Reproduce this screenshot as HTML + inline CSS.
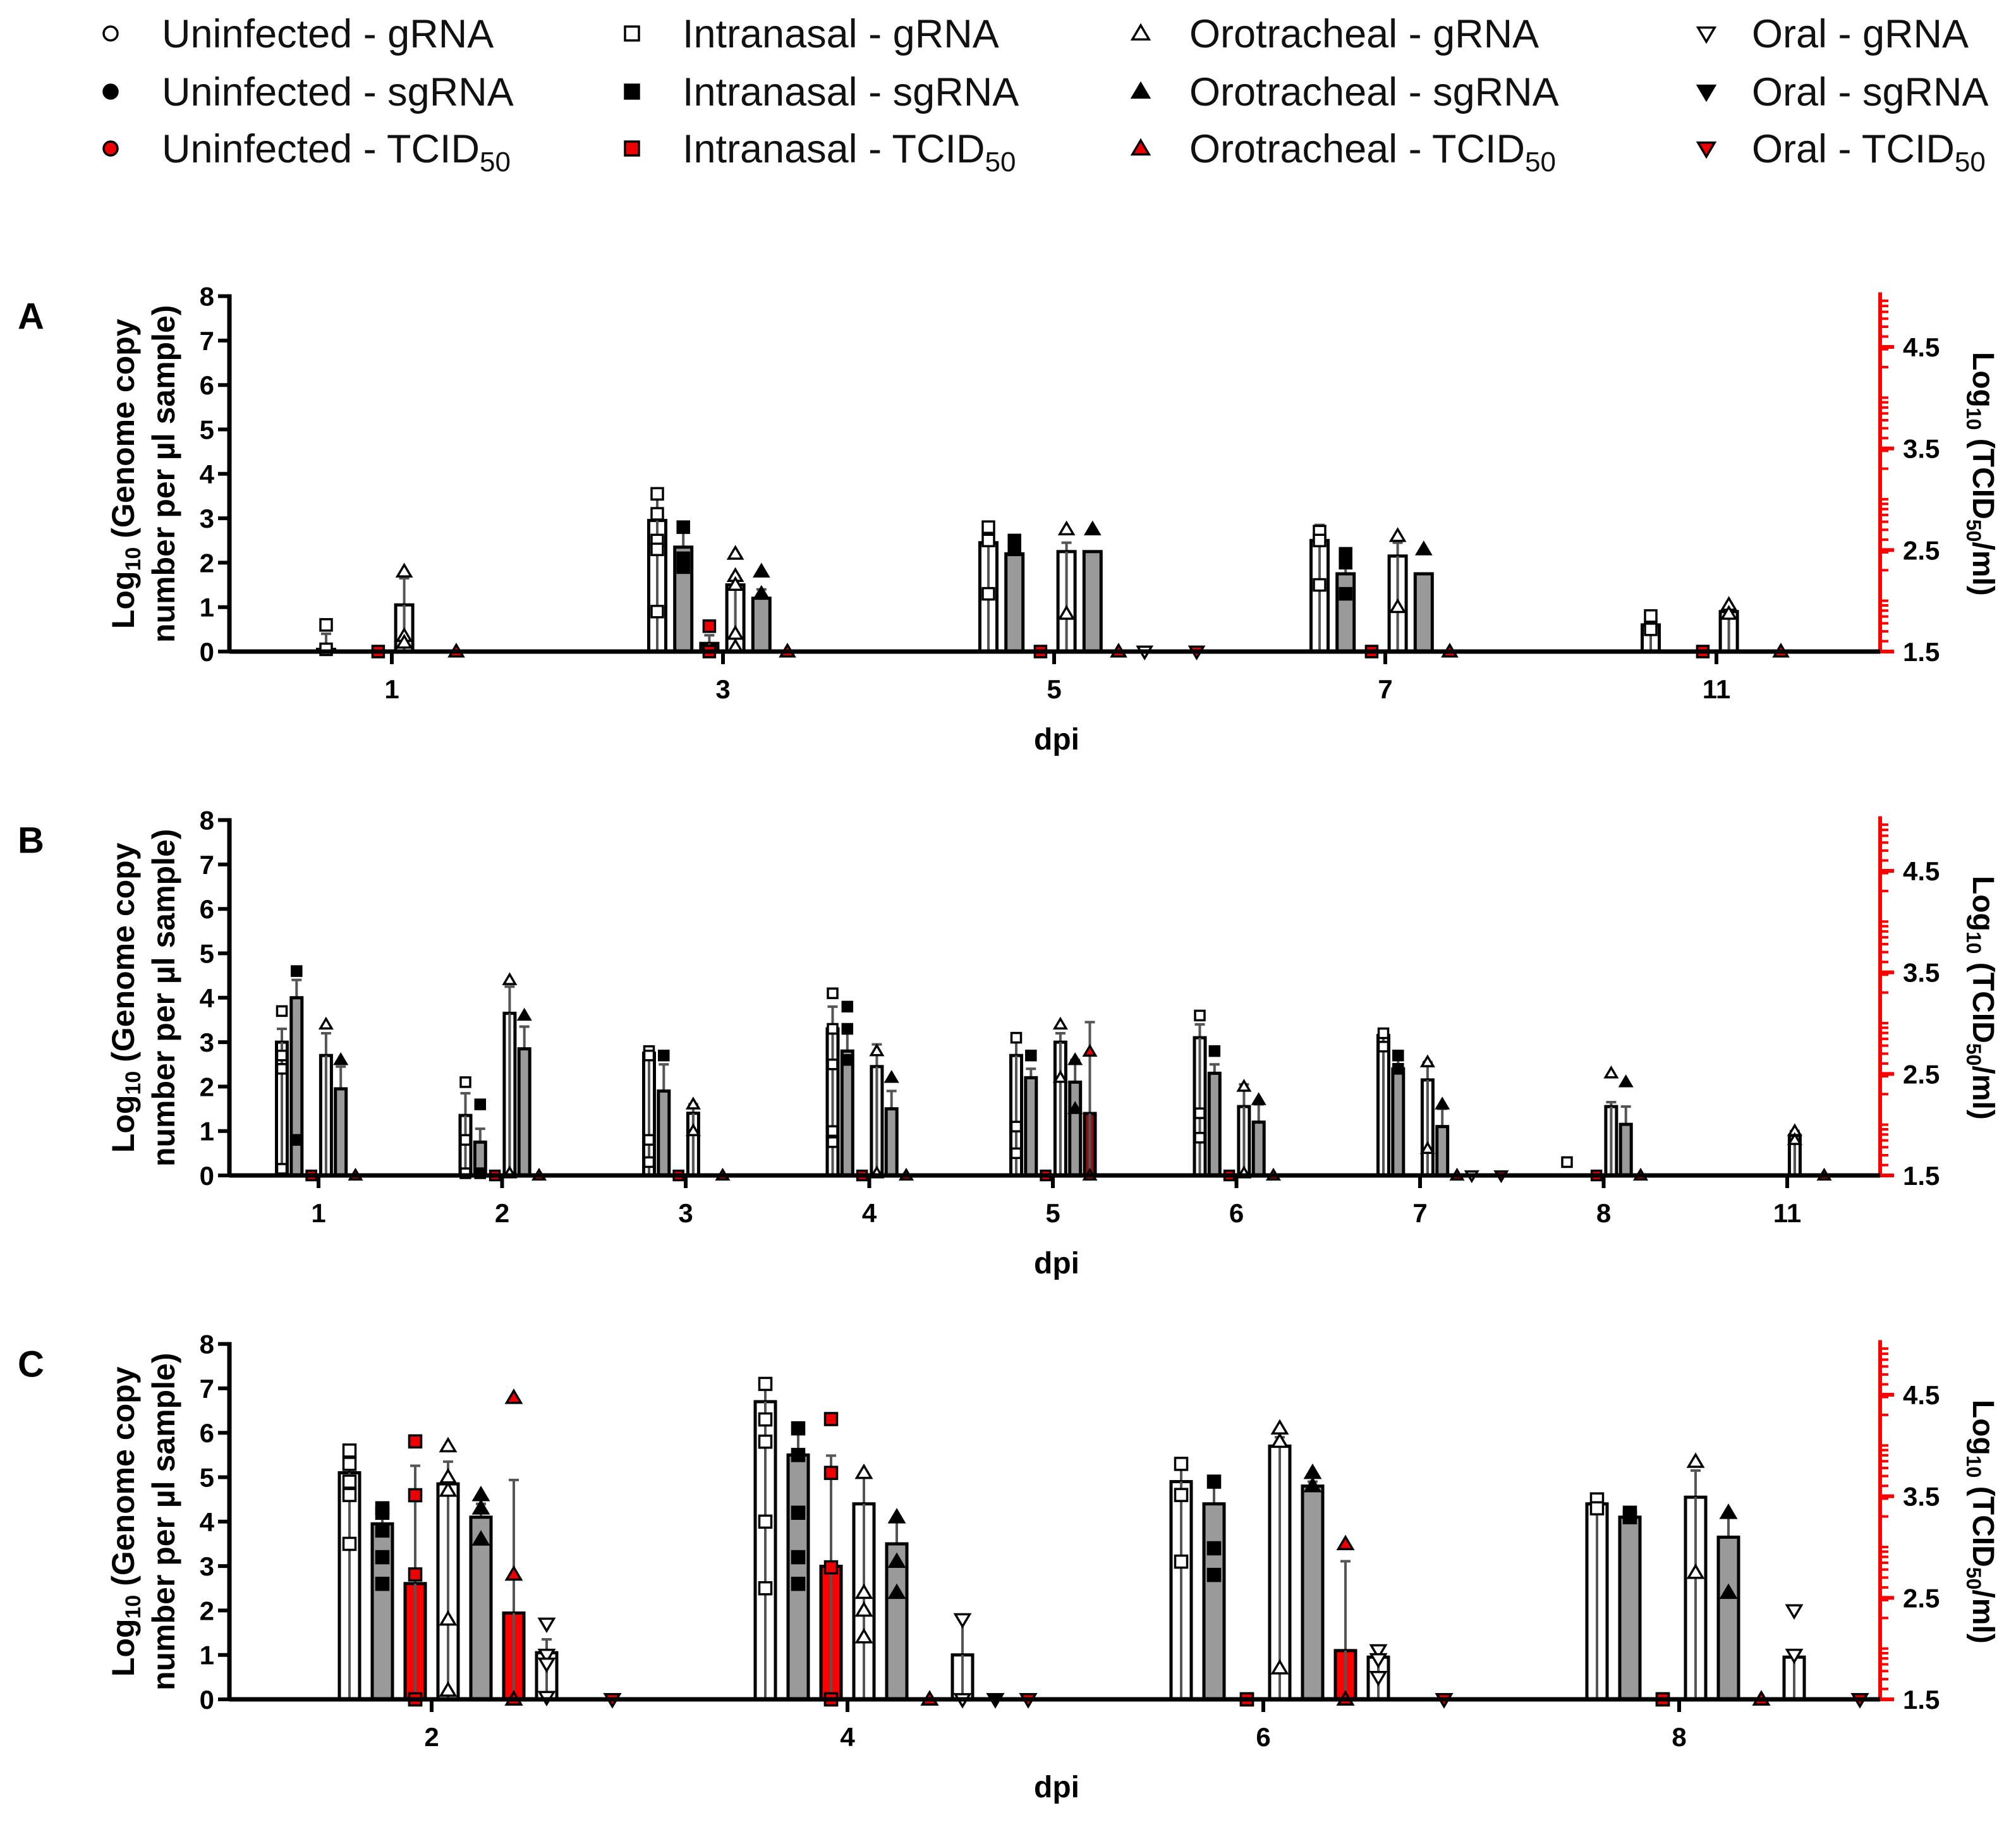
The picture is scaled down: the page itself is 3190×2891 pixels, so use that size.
<!DOCTYPE html>
<html><head><meta charset="utf-8">
<style>
html,body{margin:0;padding:0;background:#fff;}
svg{display:block;font-family:"Liberation Sans",sans-serif;}
</style></head>
<body>
<svg id="chart" width="3190" height="2891" viewBox="0 0 3190 2891" xmlns="http://www.w3.org/2000/svg">
<g id="legend"></g>
<g id="plots"></g>
</svg>
<script>
// ---------- Panel A data ----------
const A_days = ['1','3','5','7','11'];
const A_IN_g = [0.05, 2.95, 2.45, 2.5, 0.6];
const A_IN_g_pts = [[0.6,0.05],[3.55,3.1,2.5,2.3,0.9],[2.8,2.5,1.3],[2.7,2.5,1.5],[0.8,0.5]];
const A_IN_g_e = [0.35, 0.5, 0.3, 0.35, 0.15];
const A_IN_s = [null, 2.35, 2.2, 1.75, null];
const A_IN_s_pts = [[],[2.8,2.1,1.9],[2.5,2.3],[2.2,2.0,1.3],[]];
const A_IN_s_e = [null, 0.4, 0.2, 0.5, null];
const A_IN_t = [1.5, 1.58, 1.5, 1.5, 1.5];
const A_IN_t_pts = [[1.5],[1.75,1.5],[1.5],[1.5],[1.5]];
const A_IN_t_e = [null, 0.08, null, null, null];
const A_OT_g = [1.05, 1.5, 2.25, 2.15, 0.9];
const A_OT_g_pts = [[1.8,0.35,0.2],[2.2,1.7,1.5,0.4,0.1],[2.75,0.85],[2.6,1.0],[1.05,0.85]];
const A_OT_g_e = [0.6, 0.2, 0.2, 0.3, 0.1];
const A_OT_s = [null, 1.2, 2.25, 1.75, null];
const A_OT_s_pts = [[],[1.8,1.3],[2.75],[2.3],[]];
const A_OT_s_e = [null, 0.2, null, null, null];
const A_OT_t = [1.5, 1.5, 1.5, 1.5, 1.5];
const A_OT_t_pts = [[1.5],[1.5],[1.5],[1.5],[1.5]];
const A_OT_t_e = [null, null, null, null, null];
const A_OR_g = [null, null, 0, null, null];
const A_OR_g_pts = [[],[],[0],[],[]];
const A_OR_g_e = [null, null, null, null, null];
const A_OR_s = [null, null, null, null, null];
const A_OR_s_pts = [[],[],[],[],[]];
const A_OR_s_e = [null, null, null, null, null];
const A_OR_t = [null, null, 1.5, null, null];
const A_OR_t_pts = [[],[],[1.5],[],[]];
const A_OR_t_e = [null, null, null, null, null];

// ---------- Panel B data ----------
const B_days = ['1','2','3','4','5','6','7','8','11'];
const B_IN_g = [3.0, 1.35, 2.75, 3.3, 2.7, 3.1, 3.15, null, null];
const B_IN_g_pts = [[3.7,2.7,2.4,0.15],[2.1,0.8,0.05],[2.8,2.7,0.8,0.3],[4.1,3.3,2.5,1.0,0.75],[3.1,1.1,0.5],[3.6,1.4,0.85],[3.2,2.9],[0.3],[]];
const B_IN_g_e = [0.3, 0.5, 0.1, 0.5, 0.3, 0.3, 0.1, null, null];
const B_IN_s = [4.0, 0.75, 1.9, 2.8, 2.2, 2.3, 2.4, null, null];
const B_IN_s_pts = [[4.6,0.8],[1.6,0.05],[2.7],[3.8,3.3,2.6],[2.7],[2.8],[2.7,2.4],[],[]];
const B_IN_s_e = [0.4, 0.3, 0.6, 0.5, 0.2, 0.2, 0.2, null, null];
const B_IN_t = [1.5, 1.5, 1.5, 1.5, 1.5, 1.5, null, 1.5, null];
const B_IN_t_pts = [[1.5],[1.5],[1.5],[1.5],[1.5],[1.5],[],[1.5],[]];
const B_IN_t_e = [null, null, null, null, null, null, null, null, null];
const B_OT_g = [2.7, 3.65, 1.4, 2.45, 3.0, 1.55, 2.15, 1.55, 0.9];
const B_OT_g_pts = [[3.4],[4.4,0.05],[1.6,1.0],[2.8,0.05],[3.4,2.2],[2.0,0.05],[2.55,0.6],[2.3],[1.0,0.8]];
const B_OT_g_e = [0.5, 0.6, 0.2, 0.5, 0.2, 0.5, 0.4, 0.1, 0.1];
const B_OT_s = [1.95, 2.85, null, 1.5, 2.1, 1.2, 1.1, 1.15, null];
const B_OT_s_pts = [[2.6],[3.6],[],[2.2],[2.6,1.5],[1.7],[1.6],[2.1],[]];
const B_OT_s_e = [0.5, 0.5, null, 0.4, 0.5, 0.4, 0.4, 0.4, null];
const B_OT_t = [1.5, 1.5, 1.5, 1.5, 2.11, 1.5, 1.5, 1.5, 1.5];
const B_OT_t_pts = [[1.5],[1.5],[1.5],[1.5],[2.72,1.5],[1.5],[1.5],[1.5],[1.5]];
const B_OT_t_e = [null, null, null, null, 0.9, null, null, null, null];
const B_OR_g = [null, null, null, null, null, null, 0, null, null];
const B_OR_g_pts = [[],[],[],[],[],[],[0],[],[]];
const B_OR_g_e = [null, null, null, null, null, null, null, null, null];
const B_OR_s = [null, null, null, null, null, null, null, null, null];
const B_OR_s_pts = [[],[],[],[],[],[],[],[],[]];
const B_OR_s_e = [null, null, null, null, null, null, null, null, null];
const B_OR_t = [null, null, null, null, null, null, 1.5, null, null];
const B_OR_t_pts = [[],[],[],[],[],[],[1.5],[],[]];
const B_OR_t_e = [null, null, null, null, null, null, null, null, null];

// ---------- Panel C data ----------
const C_days = ['2','4','6','8'];
const C_IN_g = [5.1, 6.7, 4.9, 4.4];
const C_IN_g_pts = [[5.6,5.3,4.9,4.6,3.5],[7.1,6.3,5.8,4.0,2.5],[5.3,4.6,3.1],[4.5,4.3]];
const C_IN_g_e = [0.3, 0.5, 0.3, 0.1];
const C_IN_s = [3.95, 5.5, 4.4, 4.1];
const C_IN_s_pts = [[4.3,4.2,3.8,3.2,2.6],[6.1,5.5,4.2,3.2,2.6],[4.9,3.4,2.8],[4.2,4.1]];
const C_IN_s_e = [0.3, 0.5, 0.5, 0.1];
const C_IN_t = [2.64, 2.81, 1.5, 1.5];
const C_IN_t_pts = [[4.04,3.51,2.73,1.5,1.5],[4.26,3.73,2.8,1.5,1.5],[1.5,1.5],[1.5,1.5]];
const C_IN_t_e = [1.16, 1.09, null, null];
const C_OT_g = [4.85, 4.4, 5.7, 4.55];
const C_OT_g_pts = [[5.7,5.0,4.7,1.8,0.2],[5.1,2.4,2.0,1.4],[6.1,5.8,0.7],[5.35,2.85]];
const C_OT_g_e = [0.5, 0.7, 0.2, 0.6];
const C_OT_s = [4.1, 3.5, 4.8, 3.65];
const C_OT_s_pts = [[4.6,4.3,3.6],[4.1,3.1,2.4],[5.1,4.8],[4.2,2.4]];
const C_OT_s_e = [0.3, 0.6, 0.1, 0.5];
const C_OT_t = [2.35, 1.5, 1.98, 1.5];
const C_OT_t_pts = [[4.47,2.73,1.5,1.5,1.5],[1.5,1.5],[3.03,1.5,1.5],[1.5,1.5]];
const C_OT_t_e = [1.31, null, 0.88, null];
const C_OR_g = [1.05, 1.0, 0.95, 0.95];
const C_OR_g_pts = [[1.7,1.0,0.8,0.05],[1.8,0.0],[1.1,0.9,0.5],[2.0,1.0]];
const C_OR_g_e = [0.3, 0.8, 0.2, 0.1];
const C_OR_s = [null, 0, null, null];
const C_OR_s_pts = [[],[0,0],[],[]];
const C_OR_s_e = [null, null, null, null];
const C_OR_t = [1.5, 1.5, 1.5, 1.5];
const C_OR_t_pts = [[1.5,1.5],[1.5,1.5],[1.5,1.5],[1.5,1.5]];
const C_OR_t_e = [null, null, null, null];

const yTicks = ['0','1','2','3','4','5','6','7','8'];
const rTicks = ['1.5','2.5','3.5','4.5'];

const NS = 'http://www.w3.org/2000/svg';
function mk(tag, attrs, parent){
  const e = document.createElementNS(NS, tag);
  for (const k in attrs) e.setAttribute(k, attrs[k]);
  parent.appendChild(e);
  return e;
}
const legend = document.getElementById('legend');
const plots = document.getElementById('plots');

const AXL = 363, AXR = 2975;

function markerShape(shape, x, y, s, fill, parent){
  let el;
  if (shape === 'circle') {
    el = mk('circle', {cx:x, cy:y, r:s*0.5, fill:fill, stroke:'#000', 'stroke-width':3.5}, parent);
  } else if (shape === 'square') {
    el = mk('rect', {x:x-s/2, y:y-s/2, width:s, height:s, fill:fill, stroke:'#000', 'stroke-width':3.5}, parent);
  } else if (shape === 'up') {
    const h = s*0.95;
    el = mk('polygon', {points:`${x},${y-h*0.62} ${x-s*0.6},${y+h*0.45} ${x+s*0.6},${y+h*0.45}`, fill:fill, stroke:'#000', 'stroke-width':3.5}, parent);
  } else {
    const h = s*0.95;
    el = mk('polygon', {points:`${x},${y+h*0.62} ${x-s*0.6},${y-h*0.45} ${x+s*0.6},${y-h*0.45}`, fill:fill, stroke:'#000', 'stroke-width':3.5}, parent);
  }
  return el;
}

// ---------- Legend ----------
const legCols = [
  {shape:'circle', grp:'Uninfected', mx:175, tx:256},
  {shape:'square', grp:'Intranasal', mx:1000, tx:1080},
  {shape:'up', grp:'Orotracheal', mx:1805, tx:1882},
  {shape:'down', grp:'Oral', mx:2700, tx:2772}
];
const legRows = [{lab:'gRNA', fill:'#fff', y:75},{lab:'sgRNA', fill:'#000', y:167},{lab:'TCID', fill:'#e00', y:257}];
legCols.forEach(c=>{
  legRows.forEach(r=>{
    const m = markerShape(c.shape, c.mx, r.y-22, 22, r.fill, legend);
    
    
    const t = mk('text', {x:c.tx, y:r.y, 'font-size':63, fill:'#111'}, legend);
    
    
    if (r.lab === 'TCID') {
      t.textContent = c.grp + ' - TCID';
      const sub = mk('tspan', {'font-size':44, dy:14}, t);
      
      
      sub.textContent = '50';
    } else {
      t.textContent = c.grp + ' - ' + r.lab;
    }
  });
});

// ---------- Panels ----------
const panels = [
  {id:'A', y0:1031, days:A_days, first:620, step:524, off0:-104, ostep:41.2, bw:27, ms:18,
   data:[[A_IN_g,A_IN_g_pts,A_IN_g_e],[A_IN_s,A_IN_s_pts,A_IN_s_e],[A_IN_t,A_IN_t_pts,A_IN_t_e],[A_OT_g,A_OT_g_pts,A_OT_g_e],[A_OT_s,A_OT_s_pts,A_OT_s_e],[A_OT_t,A_OT_t_pts,A_OT_t_e],[A_OR_g,A_OR_g_pts,A_OR_g_e],[A_OR_s,A_OR_s_pts,A_OR_s_e],[A_OR_t,A_OR_t_pts,A_OR_t_e]], line2:'number per µl sample)'},
  {id:'B', y0:1860, days:B_days, first:504, step:290.5, off0:-58, ostep:23.3, bw:17, ms:15,
   data:[[B_IN_g,B_IN_g_pts,B_IN_g_e],[B_IN_s,B_IN_s_pts,B_IN_s_e],[B_IN_t,B_IN_t_pts,B_IN_t_e],[B_OT_g,B_OT_g_pts,B_OT_g_e],[B_OT_s,B_OT_s_pts,B_OT_s_e],[B_OT_t,B_OT_t_pts,B_OT_t_e],[B_OR_g,B_OR_g_pts,B_OR_g_e],[B_OR_s,B_OR_s_pts,B_OR_s_e],[B_OR_t,B_OR_t_pts,B_OR_t_e]], line2:'number per µl sample)'},
  {id:'C', y0:2689, days:C_days, first:683, step:658, off0:-130, ostep:52, bw:32, ms:19,
   data:[[C_IN_g,C_IN_g_pts,C_IN_g_e],[C_IN_s,C_IN_s_pts,C_IN_s_e],[C_IN_t,C_IN_t_pts,C_IN_t_e],[C_OT_g,C_OT_g_pts,C_OT_g_e],[C_OT_s,C_OT_s_pts,C_OT_s_e],[C_OT_t,C_OT_t_pts,C_OT_t_e],[C_OR_g,C_OR_g_pts,C_OR_g_e],[C_OR_s,C_OR_s_pts,C_OR_s_e],[C_OR_t,C_OR_t_pts,C_OR_t_e]], line2:'number  per µl sample)'}
];
const seriesInfo = [
  {name:'intranasal-grna', shape:'square', kind:'g'},
  {name:'intranasal-sgrna', shape:'square', kind:'s'},
  {name:'intranasal-tcid50', shape:'square', kind:'t'},
  {name:'orotracheal-grna', shape:'up', kind:'g'},
  {name:'orotracheal-sgrna', shape:'up', kind:'s'},
  {name:'orotracheal-tcid50', shape:'up', kind:'t'},
  {name:'oral-grna', shape:'down', kind:'g'},
  {name:'oral-sgrna', shape:'down', kind:'s'},
  {name:'oral-tcid50', shape:'down', kind:'t'}
];
const UNIT = 70.3;

panels.forEach(p=>{
  const g = mk('g', {}, plots);
  
  
  const yL = v => p.y0 - v*UNIT;
  const yR = v => p.y0 - (v-1.5)*(8/3.5)*UNIT;
  const xC = i => p.first + i*p.step;
  const yTop = yL(8);

  const pl = mk('text', {x:28, y:yL(8)+52, 'font-size':58, 'font-weight':'bold', fill:'#000'}, g);
  
  
  pl.textContent = p.id;

  const ya = mk('line', {x1:AXL, y1:yTop-3, x2:AXL, y2:p.y0+3, stroke:'#000', 'stroke-width':7}, g);
  
  
  yTicks.forEach(t=>{
    const v = +t;
    const tk = mk('line', {x1:AXL-18, y1:yL(v), x2:AXL, y2:yL(v), stroke:'#000', 'stroke-width':6}, g);
    
    
    const tl = mk('text', {x:AXL-24, y:yL(v)+15, 'font-size':42, 'font-weight':'bold', 'text-anchor':'end', fill:'#000'}, g);
    
    
    tl.textContent = t;
  });
  const cy = (yTop + p.y0)/2;
  const yt = mk('text', {x:0, y:0, 'font-size':50, 'font-weight':'bold', 'text-anchor':'middle', fill:'#000', transform:`translate(212,${cy}) rotate(-90)`}, g);
  
  
  const t1 = mk('tspan', {x:0, dy:0}, yt);
  
  
  t1.textContent = 'Log';
  const t1s = mk('tspan', {'font-size':34, dy:10}, yt);
  
  
  t1s.textContent = '10';
  const t1b = mk('tspan', {dy:-10}, yt);
  
  
  t1b.textContent = ' (Genome copy';
  const t2 = mk('tspan', {x:0, dy:64}, yt);
  
  
  t2.textContent = p.line2;

  const ra = mk('line', {x1:AXR, y1:yTop-6, x2:AXR, y2:p.y0, stroke:'#f00', 'stroke-width':6}, g);
  
  
  for (let d=1; d<5; d++){
    for (let k=1; k<=9; k++){
      const v = Math.log10(k*Math.pow(10,d));
      if (v < 1.5 || v > 5.02) continue;
      const mt = mk('line', {x1:AXR, y1:yR(v), x2:AXR+13, y2:yR(v), stroke:'#f00', 'stroke-width':4}, g);
      
      
    }
  }
  rTicks.forEach(t=>{
    const v = +t;
    const tk = mk('line', {x1:AXR, y1:yR(v), x2:AXR+22, y2:yR(v), stroke:'#f00', 'stroke-width':6}, g);
    
    
    const tl = mk('text', {x:AXR+36, y:yR(v)+15, 'font-size':42, 'font-weight':'bold', fill:'#000'}, g);
    
    
    tl.textContent = t;
  });
  const rt = mk('text', {x:0, y:0, 'font-size':48, 'font-weight':'bold', 'text-anchor':'middle', fill:'#000', transform:`translate(3122,${cy}) rotate(90)`}, g);
  
  
  rt.textContent = 'Log';
  const rs1 = mk('tspan', {'font-size':32, dy:10}, rt);
  
  
  rs1.textContent = '10';
  const rs2 = mk('tspan', {dy:-10}, rt);
  
  
  rs2.textContent = ' (TCID';
  const rs3 = mk('tspan', {'font-size':32, dy:10}, rt);
  
  
  rs3.textContent = '50';
  const rs4 = mk('tspan', {dy:-10}, rt);
  
  
  rs4.textContent = '/ml)';

  p.data.forEach((ser, si)=>{
    const info = seriesInfo[si];
    const means = ser[0], pts = ser[1], errs = ser[2];
    const isT = info.kind === 't';
    const ys = isT ? yR : yL;
    const base = isT ? 1.5 : 0;
    means.forEach((m, i)=>{
      const x = xC(i) + p.off0 + si*p.ostep;
      const pv = pts[i];
      const e = errs[i];
      if (m !== null && (m > base + 0.001 || (e !== null && e > 0))) {
        const top = ys(m + (e || 0));
        const eb = mk('line', {x1:x, y1:p.y0, x2:x, y2:top, stroke:'#555', 'stroke-width':4}, g);
        
        
        if (e) {
          const cap = mk('line', {x1:x-8, y1:top, x2:x+8, y2:top, stroke:'#555', 'stroke-width':4}, g);
          
          
        }
        if (m > base + 0.001) {
          const fill = info.kind === 'g' ? 'none' : (info.kind === 's' ? '#9a9a9a' : (p.id==='B' ? '#8b1010' : '#f00'));
          const bar = mk('rect', {x:x-p.bw/2, y:ys(m), width:p.bw, height:p.y0-ys(m), fill:fill, stroke:'#000', 'stroke-width':5}, g);
          
          
          if (info.kind !== 's') {
            const ctr = mk('line', {x1:x, y1:ys(m), x2:x, y2:p.y0, stroke:'#555', 'stroke-width':4}, g);
            
            
          }
        }
      }
      pv.forEach(v=>{
        const fill = info.kind === 'g' ? '#fff' : (info.kind === 's' ? '#000' : '#e00');
        const mkEl = markerShape(info.shape, x, ys(v), p.ms, fill, g);
        
        
      });
    });
  });

  const xa = mk('line', {x1:AXL, y1:p.y0, x2:AXR, y2:p.y0, stroke:'#000', 'stroke-width':7}, g);
  
  
  p.days.forEach((d,i)=>{
    const tk = mk('line', {x1:xC(i), y1:p.y0, x2:xC(i), y2:p.y0+20, stroke:'#000', 'stroke-width':6}, g);
    
    
    const tl = mk('text', {x:xC(i), y:p.y0+74, 'font-size':42, 'font-weight':'bold', 'text-anchor':'middle', fill:'#000'}, g);
    
    
    tl.textContent = d;
  });
  const xt = mk('text', {x:1672, y:p.y0+155, 'font-size':48, 'font-weight':'bold', 'text-anchor':'middle', fill:'#000'}, g);
  
  
  xt.textContent = 'dpi';
});
</script>
</body></html>
